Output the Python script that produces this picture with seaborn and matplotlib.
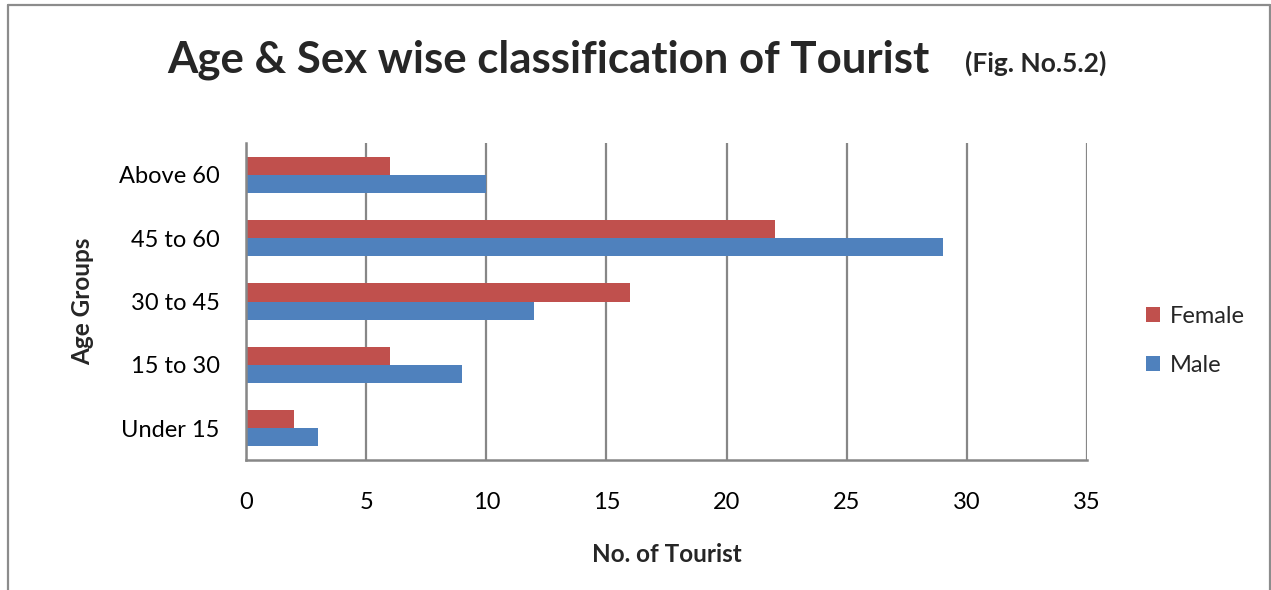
import matplotlib
matplotlib.use("Agg")
import matplotlib.pyplot as plt
from matplotlib.lines import Line2D
import seaborn as sns
import pandas as pd

# Tourist counts by age group and sex
age_groups = ["Above 60", "45 to 60", "30 to 45", "15 to 30", "Under 15"]
female = [6, 22, 16, 6, 2]
male = [10, 29, 12, 9, 3]
x_ticks = [0, 5, 10, 15, 20, 25, 30, 35]

df = pd.DataFrame({
    "Age Group": age_groups * 2,
    "Sex": ["Female"] * len(age_groups) + ["Male"] * len(age_groups),
    "Count": female + male,
})

sns.set_theme(style="white")
plt.rcParams["font.family"] = ["Lato", "DejaVu Sans"]

W, H = 1271, 590
fig = plt.figure(figsize=(W / 100, H / 100), dpi=100)
ax = fig.add_axes([246 / W, 1 - 460 / H, (1087 - 246) / W, (460 - 143) / H])

palette = {"Female": "#C0504D", "Male": "#4F81BD"}
sns.barplot(data=df, x="Count", y="Age Group", hue="Sex", order=age_groups,
            hue_order=["Female", "Male"], palette=palette, orient="h",
            width=0.57, gap=0, saturation=1, errorbar=None, ax=ax,
            linewidth=0)

grid_c = "#878787"
ax.set_xlim(0, 35)
ax.set_xticks(x_ticks)
ax.set_xticklabels([str(t) for t in x_ticks])
ax.xaxis.grid(True, color=grid_c, linewidth=1.6)
ax.set_axisbelow(True)
for s in ["top", "right"]:
    ax.spines[s].set_visible(False)
for s in ["left", "bottom"]:
    ax.spines[s].set_color(grid_c)
    ax.spines[s].set_linewidth(1.8)
ax.tick_params(axis="x", which="major", direction="out", length=5, width=1.6,
               color=grid_c, labelsize=17, pad=18, labelcolor="black")
ax.tick_params(axis="y", length=0, labelsize=17, pad=19, labelcolor="black")

ax.set_xlabel("No. of Tourist", fontsize=17.5, fontweight="bold", labelpad=22)
ax.set_ylabel("Age Groups", fontsize=17.5, fontweight="bold", labelpad=18)

handles, labels = ax.get_legend_handles_labels()
ax.legend(handles, labels, loc="center left", bbox_to_anchor=(1.045, 0.375),
          frameon=False, fontsize=17, handlelength=0.6, handleheight=0.6,
          handletextpad=0.4, labelspacing=1.2)

fig.text(167 / W, 1 - 72 / H, "Age & Sex wise classification of Tourist",
         fontsize=31.5, fontweight="bold", ha="left", va="baseline")
fig.text(965 / W, 1 - 72 / H, "(Fig. No.5.2)",
         fontsize=19, fontweight="bold", ha="left", va="baseline")

# outer chart frame
border = "#8c8c8c"
fig.add_artist(Line2D([8 / W, 8 / W], [0, 1 - 5 / H], color=border, lw=1.6,
                      transform=fig.transFigure))
fig.add_artist(Line2D([8 / W, 1270 / W], [1 - 5 / H, 1 - 5 / H], color=border,
                      lw=1.6, transform=fig.transFigure))
fig.add_artist(Line2D([1270 / W, 1270 / W], [0, 1 - 5 / H], color=border, lw=1.6,
                      transform=fig.transFigure))

fig.savefig("out.png", dpi=100)
